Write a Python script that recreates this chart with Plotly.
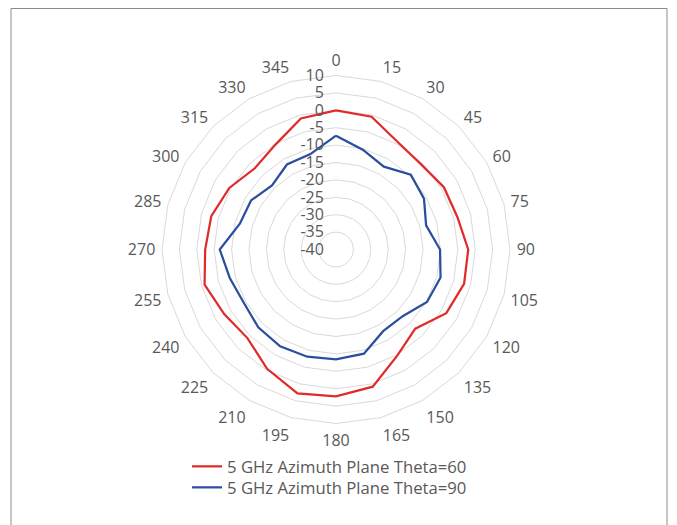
import plotly.graph_objects as go

angles = ["0", "15", "30", "45", "60", "75", "90", "105", "120", "135", "150", "165",
          "180", "195", "210", "225", "240", "255", "270", "285", "300", "315", "330", "345"]
theta60 = [0.0, -0.5, -4.4, -5.4, -4.2, -3.9, -2.0, -1.9, -3.4, -7.8, -4.8, 0.8,
           2.2, 2.8, -0.4, -4.0, -2.9, -0.9, -2.4, -2.9, -4.6, -7.0, -5.2, -1.0]
theta90 = [-7.3, -10.3, -12.5, -9.6, -10.8, -13.2, -10.1, -8.9, -9.8, -12.9, -12.9, -9.0,
           -8.4, -8.1, -7.9, -8.4, -9.4, -8.4, -6.6, -11.4, -11.8, -14.0, -11.8, -11.6]
r_ticks = [-40, -35, -30, -25, -20, -15, -10, -5, 0, 5, 10]
r_ticktext = ["-40", "-35", "-30", "-25", "-20", "-15", "-10", "-5", "0", "5", "10"]
names = ["5 GHz Azimuth Plane Theta=60", "5 GHz Azimuth Plane Theta=90"]
colors = ["#E02B2B", "#2B4F9E"]

# page body has an 8px margin; work in figure coordinates
OFF = 8
W, H = 677 - OFF, 525 - OFF
cx, cy, R = 336 - OFF, 249.5 - OFF, 174

fig = go.Figure()
legend_ids = ["legend", "legend2"]
for vals, name, col, lg in zip([theta60, theta90], names, colors, legend_ids):
    fig.add_trace(go.Scatterpolar(
        r=vals + [vals[0]], theta=angles + [angles[0]],
        mode="lines", name=name, legend=lg,
        line=dict(color=col, width=2.25),
    ))

def legend_at(top_px):
    return dict(orientation="v", x=(229 - OFF - 42) / W, xanchor="left",
                y=1 - (top_px - OFF) / H, yanchor="top",
                font=dict(size=16.7, color="#595959"), bgcolor="rgba(0,0,0,0)",
                itemwidth=30)

fig.update_layout(
    width=W, height=H,
    margin=dict(l=0, r=0, t=0, b=0),
    paper_bgcolor="white",
    font=dict(family="Open Sans", size=16, color="#595959"),
    showlegend=True,
    legend=legend_at(449),
    legend2=legend_at(470),
    polar=dict(
        domain=dict(x=[(cx - R) / W, (cx + R) / W], y=[1 - (cy + R) / H, 1 - (cy - R) / H]),
        gridshape="linear",
        bgcolor="white",
        angularaxis=dict(type="category", categoryarray=angles, rotation=90,
                         direction="clockwise", showgrid=False, showline=True,
                         linecolor="#D9D9D9", linewidth=1, ticks="outside", ticklen=3,
                         tickcolor="rgba(0,0,0,0)",
                         tickfont=dict(size=16, color="#595959")),
        radialaxis=dict(range=[-40, 10], tickmode="array", tickvals=r_ticks,
                        ticktext=r_ticktext, angle=90, tickangle=90,
                        side="counterclockwise", showline=False, ticks="outside",
                        ticklen=6, tickcolor="rgba(0,0,0,0)",
                        gridcolor="#D9D9D9", gridwidth=1,
                        tickfont=dict(size=16, color="#595959")),
    ),
    shapes=[dict(type="rect", xref="paper", yref="paper",
                 x0=3 / W, x1=659 / W, y0=-0.05, y1=1 - 0.5 / H,
                 line=dict(color="#8C8C8C", width=1), fillcolor="rgba(0,0,0,0)")],
)

fig.write_html("out.html")
